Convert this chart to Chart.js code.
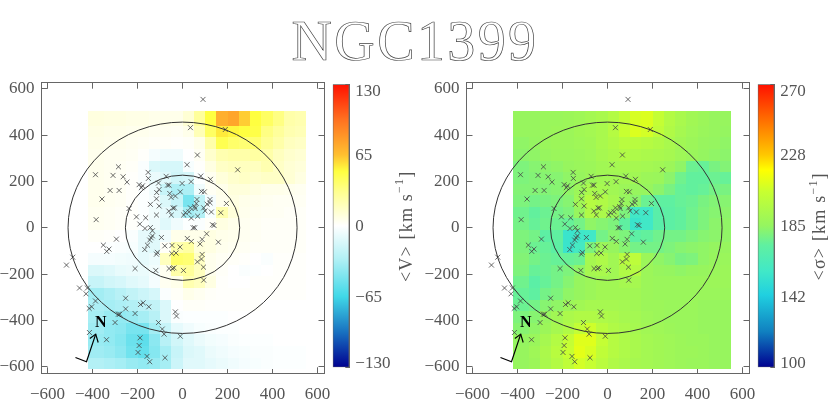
<!DOCTYPE html>
<html>
<head>
<meta charset="utf-8">
<title>NGC1399</title>
<script src="https://cdn.jsdelivr.net/npm/chart.js@4"></script>
<style>
  html, body { margin: 0; padding: 0; background: #fff; }
  body { width: 830px; height: 415px; position: relative; overflow: hidden; }
  canvas { position: absolute; }
  #titulo {
    position: absolute; left: 0; top: 10px; width: 830px; text-align: center;
    font-family: "Liberation Serif", serif; font-size: 56px; line-height: 62px;
    letter-spacing: 2.4px; color: #fff; -webkit-text-stroke: 0.7px #444;
  }
</style>
</head>
<body>
<div id="titulo">NGC1399</div>
<canvas id="mapaV" width="340" height="345" style="left:0;top:70px"></canvas>
<canvas id="barraV" width="105" height="345" style="left:325px;top:70px"></canvas>
<canvas id="mapaS" width="340" height="345" style="left:424.5px;top:70px"></canvas>
<canvas id="barraS" width="80" height="345" style="left:749.5px;top:70px"></canvas>
<script>
// bordes de las celdas (km/s en el plano del cielo)
const xEdges = [-420,-350,-300,-250,-200,-150,-100,-50,0,50,100,150,200,250,300,350,400,450,500,550];
const yEdges = [505,440,390,340,290,240,190,140,90,40,-10,-60,-110,-160,-210,-260,-310,-360,-410,-460,-510,-560,-610];

const velocidad = [
  [9,8,8,7,7,6,6,6,12,28,50,72,76,62,50,42,34,24,22],
  [7,6,6,5,5,4,4,3,6,20,42,55,52,50,48,34,28,22,20],
  [6,5,5,4,3,2,2,1,2,6,24,46,40,38,38,30,24,18,16],
  [5,4,4,3,1,-4,-6,-6,0,3,14,22,24,24,26,24,18,14,12],
  [5,4,3,2,-2,-14,-16,-16,-3,1,8,16,18,18,18,22,16,12,10],
  [5,4,3,1,-2,-8,-12,-18,-16,-1,4,10,14,16,14,16,16,12,8],
  [5,4,3,1,-1,-6,-22,-32,-32,-6,3,6,10,10,8,6,6,5,4],
  [5,4,3,1,-1,-4,-14,-22,-48,-25,-4,5,8,6,5,4,3,3,3],
  [4,3,2,1,-1,-5,-10,-16,-34,-30,-3,22,10,5,4,3,3,2,2],
  [4,3,2,1,-1,-6,-12,-6,-1,-2,2,8,6,4,3,2,2,2,2],
  [2,1,0,-2,-10,-12,-6,6,6,6,8,6,5,4,3,2,2,2,2],
  [0,-1,-2,-3,-10,-12,2,22,26,10,8,5,4,3,2,2,2,2,2],
  [-4,-4,-5,-6,-10,-7,18,40,38,16,5,3,2,1,0,-2,1,1,1],
  [-14,-12,-9,-8,-8,-5,4,24,28,18,5,2,0,-2,-1,0,1,1,1],
  [-22,-18,-16,-12,-10,-4,4,6,22,18,8,1,0,0,1,1,1,1,1],
  [-35,-32,-28,-24,-20,-16,-2,2,6,4,2,1,1,1,1,1,1,1,1],
  [-32,-34,-32,-30,-26,-24,-14,0,2,2,1,1,1,1,1,0,0,0,0],
  [-34,-38,-40,-38,-34,-28,-14,-2,-1,-1,-1,-1,0,0,0,0,0,0,0],
  [-36,-40,-42,-48,-48,-35,-22,-10,-6,-3,-2,-1,-1,0,0,0,0,0,0],
  [-38,-40,-44,-52,-56,-42,-28,-18,-12,-8,-5,-4,-2,-1,-1,-1,0,0,0],
  [-36,-38,-42,-50,-54,-44,-34,-22,-14,-12,-8,-6,-4,-3,-2,-2,-1,-1,-1],
  [-30,-32,-34,-38,-40,-38,-34,-20,-12,-12,-10,-8,-6,-4,-3,-2,-1,-1,-1]
];

const dispersion = [
  [186,186,187,187,188,189,191,193,197,203,209,210,204,197,193,190,188,186,186],
  [186,186,187,188,188,190,191,193,198,205,210,208,202,196,192,189,187,186,185],
  [184,185,187,188,188,189,190,193,196,199,199,198,196,193,190,188,186,185,184],
  [183,184,186,187,187,188,189,192,194,196,195,194,193,192,189,187,185,184,183],
  [180,182,183,184,186,187,188,190,191,192,192,191,190,188,184,176,175,179,181],
  [180,181,182,182,184,186,188,190,190,190,190,188,187,183,177,174,174,176,175],
  [181,181,181,182,184,188,193,192,190,188,186,186,183,179,175,174,175,178,179],
  [180,178,179,180,182,190,198,196,192,186,183,176,173,173,175,176,179,181,182],
  [177,174,176,178,180,186,196,194,188,180,158,158,170,172,174,177,180,182,183],
  [178,175,177,176,175,178,184,182,180,173,155,158,170,172,174,177,180,183,184],
  [180,178,172,173,155,157,158,178,182,180,172,174,177,178,178,180,182,183,184],
  [180,176,175,172,155,160,180,188,186,182,178,178,178,180,182,183,184,185,186],
  [181,178,176,175,175,176,192,195,190,199,201,188,184,182,179,180,184,186,187],
  [180,175,176,178,180,184,192,193,190,196,198,188,186,185,184,185,186,187,188],
  [177,171,175,178,182,186,188,190,190,192,192,188,187,187,187,187,187,188,188],
  [175,173,178,180,184,186,188,190,190,190,190,188,187,187,187,187,187,187,187],
  [176,178,182,184,188,190,192,192,192,191,190,188,188,187,187,187,186,186,186],
  [180,182,186,190,194,196,196,195,194,192,191,189,188,187,187,187,186,186,186],
  [182,184,188,192,196,203,207,200,196,194,192,190,189,188,187,187,186,186,186],
  [185,187,192,197,204,211,211,204,198,195,193,191,190,189,188,187,187,186,186],
  [186,189,194,199,205,212,209,202,198,195,193,191,190,189,188,188,187,186,186],
  [186,188,193,197,202,208,205,200,196,194,192,191,190,189,188,187,187,186,186]
];

// cruces: mismas posiciones en los dos paneles
const crucesX = [91,35,190,66,20,245,-285,-387,-309,-264,-247,-153,-152,-73,81,124,38,-2,-193,-178,-183,-322,-282,-107,-67,-60,-104,-115,-358,-116,-57,-51,-32,-10,84,97,64,122,61,122,109,195,-143,-104,-238,-42,-36,-61,-116,-50,54,35,56,29,13,5,67,39,94,100,128,170,-384,-205,-164,-190,-167,-143,-134,47,54,133,140,107,87,21,39,78,159,-94,-134,-140,-146,-156,-168,-294,-352,-327,-337,-116,-112,-79,-47,-11,-48,-29,87,84,66,93,-60,-45,-38,4,-119,-211,-516,-488,94,-458,-423,-429,-253,-387,-404,-415,-175,-187,-150,-253,-279,-285,-211,-300,-32,-27,-107,-90,-82,-10,-414,-338,-189,-193,-198,-158,-146,-78];
const crucesY = [554,432,424,314,272,250,263,229,226,220,197,239,213,222,223,209,199,191,186,181,173,161,161,193,184,184,165,152,124,125,148,131,137,155,157,155,122,122,105,108,102,105,101,94,83,85,86,72,55,55,91,86,83,69,65,55,50,42,86,73,68,65,35,47,43,16,-3,1,-13,0,0,13,10,-26,-50,-46,-59,-70,-62,-42,-35,-43,-53,-75,-94,-49,-75,-92,-102,-114,-106,-78,-76,-83,-111,-109,-115,-135,-147,-170,-176,-176,-173,-184,-184,-176,-161,-127,-226,-260,-260,-285,-304,-316,-341,-348,-324,-331,-341,-350,-373,-373,-370,-409,-363,-381,-409,-437,-459,-468,-452,-483,-475,-508,-538,-555,-578,-561];

const ticksEjes = [-600,-400,-200,0,200,400,600];
const elipseA = [254, 509];
const elipseB = [227, 456];

// flecha de orientacion: barra, esquina, punta y las dos aletas
const flechaX = [-476,-427,-386];
const flechaY = [-560,-578,-459];
const aletaX = [-412,-386,-375];
const aletaY = [-478,-459,-495];

const ticksV = [-130,-97.5,-65,-32.5,0,32.5,65,97.5,130];
const etiquetasV = ["\u2212130",null,"\u221265",null,"0",null,"65",null,"130"];
const ticksS = [100,121.25,142.5,163.75,185,206.25,227.5,248.75,270];
const etiquetasS = ["100",null,"142",null,"185",null,"228",null,"270"];

const paradasV = [-130,-98,-65,-31,0,31,50,65,98,130];
const coloresV = ["#000090","#1870c0","#40d8e8","#b0f0f5","#ffffff","#ffff90","#ffff40","#ffc030","#ff7020","#ff1000"];
const paradasS = [100,121.4,143.5,157.5,173.5,185,205.5,218.5,227.5,249.6,270];
const coloresS = ["#000090","#1080c0","#20d0e0","#40e8c8","#60f0a0","#95f560","#c8ff30","#ffff00","#ffc800","#ff6a00","#ff1000"];

const gris = "#666";
const fuente = "Liberation Serif";

function hexRgb(h) {
  return [1, 3, 5].map(i => parseInt(h.substr(i, 2), 16));
}

function colorDe(v, paradas, colores) {
  let i = 0;
  while (i < paradas.length - 2 && v > paradas[i + 1]) i++;
  const t = Math.min(1, Math.max(0, (v - paradas[i]) / (paradas[i + 1] - paradas[i])));
  const a = hexRgb(colores[i]);
  const b = hexRgb(colores[i + 1]);
  return `rgb(${a.map((c, k) => Math.round(c + (b[k] - c) * t)).join(",")})`;
}

// sin margen extra por las etiquetas: el area del grafico queda donde toca
function sinMargen(s) {
  s.paddingLeft = 0;
  s.paddingRight = 0;
  s.paddingTop = 0;
  s.paddingBottom = 0;
}

// celdas, elipses y flecha, siempre pasando por las escalas del grafico
const pluginMapa = {
  id: "mapa",
  beforeDatasetsDraw(chart, args, opts) {
    const { x, y } = chart.scales;
    const c = chart.ctx;
    opts.valores.forEach((fila, r) => {
      fila.forEach((v, k) => {
        const x0 = Math.round(x.getPixelForValue(xEdges[k]));
        const x1 = Math.round(x.getPixelForValue(xEdges[k + 1]));
        const y0 = Math.round(y.getPixelForValue(yEdges[r]));
        const y1 = Math.round(y.getPixelForValue(yEdges[r + 1]));
        c.fillStyle = colorDe(v, opts.paradas, opts.colores);
        c.fillRect(x0, y0, x1 - x0, y1 - y0);
      });
    });
  },
  afterDatasetsDraw(chart) {
    const { x, y } = chart.scales;
    const c = chart.ctx;
    c.save();
    c.strokeStyle = "#333";
    c.lineWidth = 1;
    elipseA.forEach((a, i) => {
      c.beginPath();
      c.ellipse(x.getPixelForValue(0), y.getPixelForValue(0),
        x.getPixelForValue(a) - x.getPixelForValue(0),
        y.getPixelForValue(0) - y.getPixelForValue(elipseB[i]), 0, 0, 2 * Math.PI);
      c.stroke();
    });
    c.strokeStyle = "#000";
    c.lineWidth = 1.2;
    [[flechaX, flechaY], [aletaX, aletaY]].forEach(([px, py]) => {
      c.beginPath();
      px.forEach((v, i) => c.lineTo(x.getPixelForValue(v), y.getPixelForValue(py[i])));
      c.stroke();
    });
    c.fillStyle = "#000";
    c.font = `bold 16px "${fuente}"`;
    c.textAlign = "center";
    c.textBaseline = "middle";
    c.fillText("N", x.getPixelForValue(-364), y.getPixelForValue(-409));
    c.restore();
  }
};

function crearMapa(id, valores, paradas, colores) {
  const celdas = [];
  valores.forEach((fila, r) => fila.forEach((v, k) => {
    celdas.push({ x: (xEdges[k] + xEdges[k + 1]) / 2, y: (yEdges[r] + yEdges[r + 1]) / 2, v });
  }));
  const fijarTicks = s => { s.ticks = ticksEjes.map(value => ({ value })); };
  const ejeX = (position, alto, etiquetas) => ({
    type: "linear", position, min: -627, max: 631, afterBuildTicks: fijarTicks,
    afterFit: s => { s.height = alto; sinMargen(s); },
    border: { color: gris, width: 1 },
    grid: { drawOnChartArea: false, color: gris, tickLength: -6 },
    ticks: {
      display: etiquetas, autoSkip: false, maxRotation: 0, padding: 17, color: "#555",
      font: { family: fuente, size: 17 },
      callback: v => String(v).replace("-", "\u2212")
    }
  });
  const ejeY = (position, ancho, etiquetas) => ({
    type: "linear", position, min: -628, max: 626, afterBuildTicks: fijarTicks,
    afterFit: s => { s.width = ancho; sinMargen(s); },
    border: { color: gris, width: 1 },
    grid: { drawOnChartArea: false, color: gris, tickLength: -6 },
    ticks: {
      display: etiquetas, autoSkip: false, padding: 13, color: "#555",
      font: { family: fuente, size: 17 },
      callback: v => String(v).replace("-", "\u2212")
    }
  });
  return new Chart(document.getElementById(id).getContext("2d"), {
    type: "scatter",
    data: {
      datasets: [
        {
          label: "cruces",
          data: crucesX.map((x, i) => ({ x, y: crucesY[i] })),
          pointStyle: "crossRot", pointRadius: 3.5, borderColor: "#444", borderWidth: 0.8,
          backgroundColor: "#444"
        },
        { label: "celdas", data: celdas, pointRadius: 0 }
      ]
    },
    options: {
      responsive: false,
      animation: false,
      layout: { padding: { left: 0, top: 12.7, right: 15.5, bottom: 0 } },
      plugins: {
        legend: { display: false },
        tooltip: { enabled: false },
        mapa: { valores, paradas, colores }
      },
      scales: {
        x: ejeX("bottom", 41.7, true),
        x2: ejeX("top", 0, false),
        y: ejeY("left", 41.5, true),
        y2: ejeY("right", 0, false)
      }
    },
    plugins: [pluginMapa]
  });
}

// etiquetas de la barra y titulo girado con el -1 en superindice
const pluginBarra = {
  id: "barra",
  afterDraw(chart, args, opts) {
    const y = chart.scales.y;
    const c = chart.ctx;
    const derecha = chart.chartArea.right + 6;
    c.save();
    c.fillStyle = "#555";
    c.font = `17px "${fuente}"`;
    c.textAlign = "left";
    c.textBaseline = "middle";
    opts.ticks.forEach((v, i) => {
      if (opts.etiquetas[i] === null) return;
      const py = Math.min(y.bottom - 5, Math.max(y.top + 6, y.getPixelForValue(v)));
      c.fillText(opts.etiquetas[i], derecha, py + 0.8);
    });
    c.translate(opts.tituloX, (y.top + y.bottom) / 2 + 0.5);
    c.rotate(-Math.PI / 2);
    c.letterSpacing = "1.2px";
    const a = opts.titulo;
    const b = "\u22121";
    const d = "]";
    c.font = `12px "${fuente}"`;
    const anchoB = c.measureText(b).width;
    c.font = `18px "${fuente}"`;
    const anchoA = c.measureText(a).width;
    const anchoD = c.measureText(d).width;
    let px = -(anchoA + anchoB + anchoD) / 2;
    c.fillText(a, px, 0);
    px += anchoA;
    c.font = `12px "${fuente}"`;
    c.fillText(b, px, -7);
    px += anchoB;
    c.font = `18px "${fuente}"`;
    c.fillText(d, px, 0);
    c.restore();
  }
};

function crearBarra(id, ticks, etiquetas, paradas, colores, titulo, tituloX) {
  const min = paradas[0];
  const max = paradas[paradas.length - 1];
  return new Chart(document.getElementById(id).getContext("2d"), {
    type: "bar",
    data: {
      labels: ["barra"],
      datasets: [{
        data: [[min, max]],
        barPercentage: 1,
        categoryPercentage: 1,
        borderColor: gris,
        borderWidth: 1,
        borderSkipped: false,
        backgroundColor: ctx => {
          const area = ctx.chart.chartArea;
          if (!area) return colores[0];
          const g = ctx.chart.ctx.createLinearGradient(0, area.bottom, 0, area.top);
          paradas.forEach((p, i) => g.addColorStop((p - min) / (max - min), colores[i]));
          return g;
        }
      }]
    },
    options: {
      responsive: false,
      animation: false,
      layout: { padding: { left: 7.7, top: 14.3, right: 0, bottom: 47.7 } },
      plugins: {
        legend: { display: false },
        tooltip: { enabled: false },
        barra: { ticks, etiquetas, titulo, tituloX }
      },
      scales: {
        x: { display: false },
        y: {
          type: "linear", position: "right", min, max,
          afterBuildTicks: s => { s.ticks = ticks.map(value => ({ value })); },
          afterFit: s => { s.width = chartAncho(id) - 7.7 - 16.6; sinMargen(s); },
          border: { color: gris, width: 1 },
          grid: { drawOnChartArea: false, color: gris, tickLength: -4 },
          ticks: { display: false }
        }
      }
    },
    plugins: [pluginBarra]
  });
}

function chartAncho(id) {
  return document.getElementById(id).width;
}

crearMapa("mapaV", velocidad, paradasV, coloresV);
crearBarra("barraV", ticksV, etiquetasV, paradasV, coloresV, "<V> [km s", 82);
crearMapa("mapaS", dispersion, paradasS, coloresS);
crearBarra("barraS", ticksS, etiquetasS, paradasS, coloresS, "<\u03c3> [km s", 70.5);
</script>
</body>
</html>
